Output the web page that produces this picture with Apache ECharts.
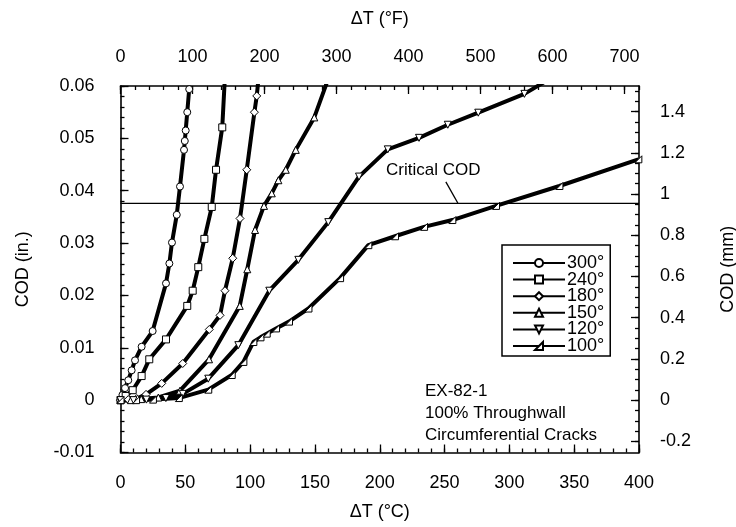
<!DOCTYPE html>
<html>
<head>
<meta charset="utf-8">
<script src="https://cdn.jsdelivr.net/npm/echarts@6/dist/echarts.min.js"></script>
<style>
  html, body { margin: 0; padding: 0; background: #fff; }
  #chart { width: 736px; height: 527px; }
</style>
</head>
<body>
<div id="chart"></div>
<script>
// Crack opening displacement vs. temperature difference, EX-82-1
var seriesNames = ['300°', '240°', '180°', '150°', '120°', '100°'];

var t300C = [0, 1.5, 3.5, 6, 8.6, 11.2, 16.3, 24.8, 35.1, 37.7, 39.7, 43.4, 45.9, 49.0, 49.6, 50.3, 51.5, 53.0];
var t300V = [0, 0.001, 0.0023, 0.0038, 0.0057, 0.0076, 0.0102, 0.0132, 0.0223, 0.0261, 0.0301, 0.0354, 0.0408, 0.0478, 0.0495, 0.0515, 0.055, 0.0594];

var t240C = [0, 4, 9.4, 16.3, 22.2, 35.1, 51.5, 55.7, 60.0, 64.7, 70.4, 73.7, 78.5, 80.5];
var t240V = [0, 0.0008, 0.0019, 0.0046, 0.0078, 0.0116, 0.018, 0.0209, 0.0254, 0.0308, 0.0369, 0.044, 0.0521, 0.0615];

var t180C = [0, 6, 12.5, 19.7, 31.8, 48, 68.5, 76.8, 80.6, 86.6, 92.2, 97.4, 103.3, 105.1, 106.5];
var t180V = [0, 0.0001, 0.0003, 0.0011, 0.0032, 0.007, 0.0135, 0.0162, 0.0209, 0.0271, 0.0347, 0.044, 0.055, 0.0581, 0.0615];

var t150C = [0, 8, 16, 29.2, 45.9, 68.3, 92.0, 97.8, 103.8, 110.7, 116.7, 121.8, 127.5, 135.2, 149.5, 160];
var t150V = [0, 0, 0.0002, 0.0005, 0.0018, 0.0078, 0.018, 0.025, 0.0325, 0.0371, 0.0395, 0.042, 0.044, 0.0478, 0.054, 0.0612];

var t120C = [0, 10, 20, 35, 48, 67.7, 90.9, 114.8, 137.2, 160.3, 184, 206.2, 230.3, 252.5, 276, 311.6, 330];
var t120V = [0, 0, 0.0001, 0.0004, 0.0012, 0.0041, 0.0105, 0.0209, 0.0268, 0.034, 0.0427, 0.0479, 0.0501, 0.0526, 0.0549, 0.0585, 0.0612];

var t100C = [0, 12, 25, 45, 67.7, 85.8, 94.8, 102.5, 108, 112.8, 120, 130, 145, 169.4, 191.2, 211.8, 234.2, 256, 289.7, 338.6, 399.5];
var t100V = [0, 0, 0.0001, 0.0004, 0.002, 0.0048, 0.0073, 0.0111, 0.012, 0.0127, 0.0137, 0.015, 0.0175, 0.0233, 0.0296, 0.0313, 0.0331, 0.0344, 0.0371, 0.0409, 0.046];

// Critical COD reference line and its label leader
var critC = [0, 400];
var critV = [0.0376, 0.0376];
var leaderC = [251, 260.3];
var leaderV = [0.0417, 0.0376];

// Axis tick labels
var cTicks = [0, 50, 100, 150, 200, 250, 300, 350, 400];
var fTicks = [0, 100, 200, 300, 400, 500, 600, 700];
var inTicks = [-0.01, 0, 0.01, 0.02, 0.03, 0.04, 0.05, 0.06];
var mmTicks = [-0.2, 0, 0.2, 0.4, 0.6, 0.8, 1, 1.2, 1.4];

var FONT = 'Liberation Sans, Arial, Helvetica, sans-serif';
var FS = 18;
var tickLenMajor = 8;
var tickLenMinor = 4;

function steps(a, b, s) {
  var out = [];
  var n = Math.round((b - a) / s);
  for (var i = 0; i <= n; i++) out.push(+(a + i * s).toFixed(6));
  return out;
}

function zip(xs, ys) {
  return xs.map(function (x, i) { return [x, ys[i]]; });
}

var symbols = ['circle', 'rect', 'diamond', 'triangle', 'triangle', 'path://M0,10 L10,0 L10,10 Z'];
var rotations = [0, 0, 0, 0, 180, 0];
var xs = [t300C, t240C, t180C, t150C, t120C, t100C];
var ys = [t300V, t240V, t180V, t150V, t120V, t100V];

var dataSeries = seriesNames.map(function (name, i) {
  return {
    name: name,
    type: 'line',
    xAxisIndex: 0,
    yAxisIndex: 0,
    data: zip(xs[i], ys[i]),
    symbol: symbols[i],
    symbolRotate: rotations[i],
    symbolSize: i === 2 ? 8 : 7,
    showAllSymbol: true,
    clip: true,
    lineStyle: { color: '#000', width: 4 },
    itemStyle: { color: '#fff', borderColor: '#000', borderWidth: 1 },
    emphasis: { disabled: true },
    z: 3
  };
});

var chart = echarts.init(document.getElementById('chart'), null, { renderer: 'canvas' });

var axisLineStyle = { color: '#000', width: 1.6 };
var tickStyle = { color: '#000', width: 1.3 };

function minorAxis(base, vals) {
  return Object.assign({}, base, {
    axisLine: { show: false, onZero: false },
    axisLabel: { show: false },
    axisTick: { show: true, inside: true, length: tickLenMinor, customValues: vals, lineStyle: tickStyle },
    splitLine: { show: false },
    name: ''
  });
}

var nameStyle = { fontFamily: FONT, fontSize: FS, color: '#000' };
var labelStyle = { fontFamily: FONT, fontSize: FS, color: '#000' };

var xBottom = {
  type: 'value', position: 'bottom', min: 0, max: 400,
  name: 'ΔT (°C)', nameLocation: 'middle', nameGap: 51, nameTextStyle: nameStyle,
  axisLine: { show: true, onZero: false, lineStyle: axisLineStyle },
  axisTick: { show: true, inside: true, length: tickLenMajor, customValues: cTicks, lineStyle: tickStyle },
  axisLabel: Object.assign({ show: true, customValues: cTicks, margin: 22 }, labelStyle),
  splitLine: { show: false }
};
var xTop = {
  type: 'value', position: 'top', min: 0, max: 720,
  name: 'ΔT (°F)', nameLocation: 'middle', nameGap: 58, nameTextStyle: nameStyle,
  axisLine: { show: true, onZero: false, lineStyle: axisLineStyle },
  axisTick: { show: true, inside: true, length: tickLenMajor, customValues: fTicks, lineStyle: tickStyle },
  axisLabel: Object.assign({ show: true, customValues: fTicks, margin: 20 }, labelStyle),
  splitLine: { show: false }
};
var yLeft = {
  type: 'value', position: 'left', min: -0.01, max: 0.06,
  name: 'COD (in.)', nameLocation: 'middle', nameGap: 88, nameRotate: 90, nameTextStyle: nameStyle,
  axisLine: { show: true, onZero: false, lineStyle: axisLineStyle },
  axisTick: { show: true, inside: true, length: tickLenMajor, customValues: inTicks, lineStyle: tickStyle },
  axisLabel: Object.assign({ show: true, customValues: inTicks, margin: 26 }, labelStyle),
  splitLine: { show: false }
};
var yRight = {
  type: 'value', position: 'right', min: -0.254, max: 1.524,
  name: 'COD (mm)', nameLocation: 'middle', nameGap: 80, nameRotate: 90, nameTextStyle: nameStyle,
  axisLine: { show: true, onZero: false, lineStyle: axisLineStyle },
  axisTick: { show: true, inside: true, length: tickLenMajor, customValues: mmTicks, lineStyle: tickStyle },
  axisLabel: Object.assign({ show: true, customValues: mmTicks, margin: 21 }, labelStyle),
  splitLine: { show: false }
};

var option = {
  backgroundColor: '#fff',
  animation: false,
  textStyle: { fontFamily: FONT },
  grid: { left: 120.5, right: 97, top: 86, height: 366.5, containLabel: false, outerBoundsMode: 'none' },
  xAxis: [
    xBottom,
    xTop,
    minorAxis({ type: 'value', position: 'bottom', min: 0, max: 400 }, steps(0, 400, 10)),
    minorAxis({ type: 'value', position: 'top', min: 0, max: 720 }, steps(0, 720, 20))
  ],
  yAxis: [
    yLeft,
    yRight,
    minorAxis({ type: 'value', position: 'left', min: -0.01, max: 0.06 }, steps(-0.01, 0.06, 0.002)),
    minorAxis({ type: 'value', position: 'right', min: -0.254, max: 1.524 }, steps(-0.2, 1.5, 0.05))
  ],
  legend: {
    data: seriesNames,
    orient: 'vertical',
    left: 502, top: 245,
    itemWidth: 52, itemHeight: 10, itemGap: -1.4,
    padding: [9, 6, 1, 10],
    borderColor: '#000', borderWidth: 1.5, backgroundColor: '#fff',
    textStyle: { fontFamily: FONT, fontSize: FS, color: '#000', lineHeight: 16.4, padding: [0, 0, 0, -3] },
    selectedMode: false
  },
  graphic: [
    { type: 'text', left: 386, top: 162, style: { text: 'Critical COD', font: '17px ' + FONT, fill: '#000' }, z: 10 },
    { type: 'text', left: 425, top: 380, style: { text: 'EX-82-1\n100% Throughwall\nCircumferential Cracks', font: '17px ' + FONT, fill: '#000', lineHeight: 22 }, z: 10 }
  ],
  series: [
    {
      name: 'critical', type: 'line', xAxisIndex: 0, yAxisIndex: 0,
      data: zip(critC, critV), symbol: 'none',
      lineStyle: { color: '#000', width: 1.3 }, z: 2, silent: true
    },
    {
      name: 'leader', type: 'line', xAxisIndex: 0, yAxisIndex: 0,
      data: zip(leaderC, leaderV), symbol: 'none',
      lineStyle: { color: '#000', width: 1.3 }, z: 2, silent: true
    }
  ].concat(dataSeries)
};

chart.setOption(option);
</script>
</body>
</html>
